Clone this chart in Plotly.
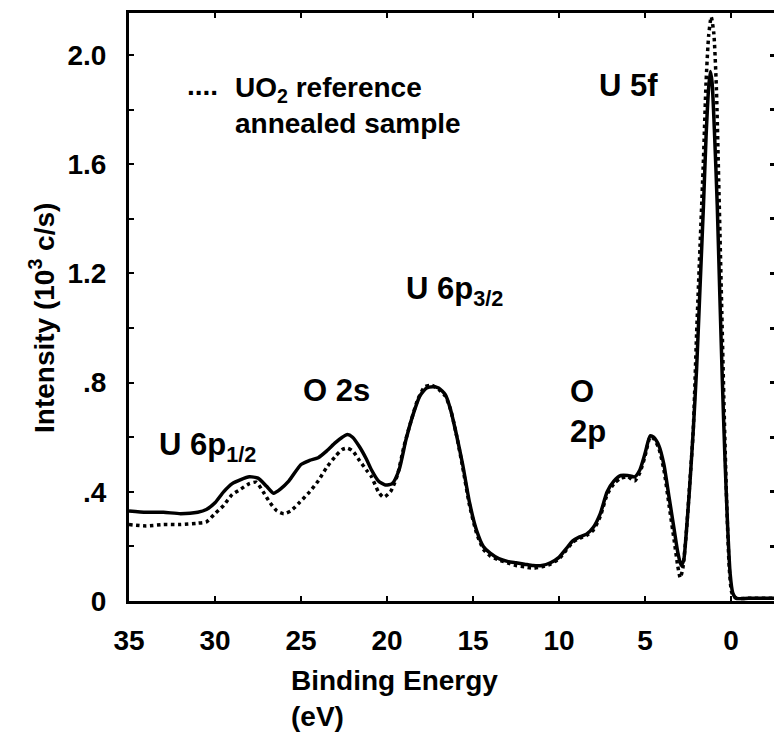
import plotly.graph_objects as go

# Binding energy (eV) and intensity (10^3 c/s)
annealed_energy = [35.0, 34.0, 33.0, 32.0, 31.0, 30.5, 30.0, 29.5, 29.0, 28.5, 28.0, 27.5, 27.0, 26.6,
                   26.2, 25.7, 25.0, 24.5, 24.0, 23.5, 23.0, 22.6, 22.3, 22.0, 21.6, 21.2, 20.9, 20.5,
                   20.1, 19.7, 19.3, 18.9, 18.5, 18.1, 17.7, 17.3, 17.0, 16.6, 16.3, 16.0, 15.6, 15.2,
                   14.8, 14.4, 14.0, 13.5, 13.0, 12.5, 12.0, 11.5, 11.0, 10.5, 10.0, 9.6, 9.2, 8.8,
                   8.4, 8.0, 7.6, 7.2, 6.8, 6.4, 6.0, 5.6, 5.3, 5.0, 4.7, 4.5, 4.2, 3.9, 3.6, 3.3,
                   3.1, 2.9, 2.75, 2.6, 2.4, 2.2, 2.0, 1.8, 1.6, 1.45, 1.3, 1.2, 1.1, 0.95, 0.8, 0.65,
                   0.5, 0.35, 0.2, 0.05, -0.1, -0.3, -1.0, -2.5]
annealed_intensity = [0.33, 0.325, 0.325, 0.32, 0.325, 0.335, 0.36, 0.40, 0.43, 0.445, 0.455, 0.45, 0.42, 0.395,
                      0.41, 0.44, 0.50, 0.515, 0.525, 0.55, 0.58, 0.60, 0.61, 0.60, 0.565, 0.52, 0.48, 0.44,
                      0.425, 0.43, 0.48, 0.59, 0.68, 0.75, 0.78, 0.785, 0.78, 0.755, 0.70, 0.62, 0.50, 0.36,
                      0.26, 0.20, 0.175, 0.155, 0.145, 0.14, 0.135, 0.13, 0.13, 0.14, 0.16, 0.19, 0.22, 0.235,
                      0.245, 0.27, 0.32, 0.40, 0.44, 0.46, 0.46, 0.455, 0.48, 0.54, 0.605, 0.60, 0.57, 0.50, 0.38, 0.26,
                      0.18, 0.13, 0.15, 0.25, 0.42, 0.62, 0.85, 1.15, 1.45, 1.70, 1.88, 1.94, 1.90, 1.70, 1.45, 1.12,
                      0.80, 0.52, 0.28, 0.10, 0.03, 0.01, 0.01, 0.01]

reference_energy = [35.0, 34.0, 33.0, 32.0, 31.0, 30.5, 30.0, 29.5, 29.0, 28.5, 28.0, 27.6, 27.2, 26.8,
                    26.4, 26.0, 25.6, 25.1, 24.5, 24.0, 23.5, 23.0, 22.6, 22.3, 22.0, 21.6, 21.2, 20.9,
                    20.5, 20.2, 19.8, 19.4, 19.0, 18.6, 18.2, 17.8, 17.4, 17.0, 16.6, 16.3, 16.0, 15.6,
                    15.2, 14.8, 14.4, 14.0, 13.5, 13.0, 12.5, 12.0, 11.5, 11.0, 10.5, 10.0, 9.6, 9.2,
                    8.8, 8.4, 8.0, 7.6, 7.2, 6.8, 6.4, 6.0, 5.6, 5.3, 5.0, 4.7, 4.5, 4.2, 3.9, 3.6,
                    3.3, 3.1, 2.95, 2.8, 2.6, 2.4, 2.2, 2.0, 1.8, 1.6, 1.45, 1.3, 1.15, 1.0, 0.85, 0.7,
                    0.55, 0.4, 0.25, 0.1, -0.05, -0.3, -1.0, -2.5]
reference_intensity = [0.28, 0.275, 0.28, 0.28, 0.285, 0.29, 0.32, 0.35, 0.39, 0.41, 0.43, 0.435, 0.40, 0.36,
                       0.33, 0.32, 0.33, 0.36, 0.40, 0.44, 0.49, 0.53, 0.555, 0.56, 0.55, 0.515, 0.48, 0.455,
                       0.40, 0.38, 0.40, 0.46, 0.57, 0.66, 0.74, 0.785, 0.79, 0.775, 0.75, 0.70, 0.62, 0.49,
                       0.35, 0.25, 0.19, 0.165, 0.15, 0.14, 0.13, 0.125, 0.12, 0.125, 0.135, 0.155, 0.185, 0.215,
                       0.23, 0.24, 0.26, 0.31, 0.39, 0.43, 0.45, 0.455, 0.44, 0.47, 0.53, 0.60, 0.595, 0.56, 0.48, 0.35,
                       0.22, 0.13, 0.085, 0.12, 0.25, 0.43, 0.62, 0.98, 1.30, 1.62, 1.90, 2.07, 2.14, 2.08, 1.88, 1.50,
                       1.10, 0.70, 0.36, 0.12, 0.03, 0.01, 0.01, 0.01]

x_ticks = [35, 30, 25, 20, 15, 10, 5, 0]
y_ticks = [0, 0.4, 0.8, 1.2, 1.6, 2.0]
y_tick_text = ["0", ".4", ".8", "1.2", "1.6", "2.0"]

FONT = "Liberation Sans"
FS = 28
FS_PEAK = 31
W, H = 774, 741
ML, MR, MT, MB = 129, 0, 13, 140
Y_RANGE = [0, 2.154]

fig = go.Figure()
fig.add_trace(go.Scatter(x=annealed_energy, y=annealed_intensity, mode="lines",
                         line=dict(color="black", width=3.5, shape="spline", smoothing=0.6),
                         name="annealed sample", showlegend=False))
fig.add_trace(go.Scatter(x=reference_energy, y=reference_intensity, mode="lines", yaxis="y2",
                         line=dict(color="black", width=3.5, dash="dot", shape="spline", smoothing=0.6),
                         name="UO2 reference", showlegend=False))

# positions given in page pixels, converted to paper coordinates of the plot area
annotations = [
    dict(x=202, y=86, text="....", xanchor="center", yanchor="middle", size=FS),
    dict(x=233, y=70, text="UO<sub>2</sub> reference<br>annealed sample", xanchor="left", yanchor="top",
         align="left", size=FS),
    dict(x=597, y=85, text="U 5f", xanchor="left", yanchor="middle", size=FS_PEAK),
    dict(x=404, y=291, text="U 6p<sub>3/2</sub>", xanchor="left", yanchor="middle", size=FS_PEAK),
    dict(x=301, y=390, text="O 2s", xanchor="left", yanchor="middle", size=FS_PEAK),
    dict(x=157, y=447, text="U 6p<sub>1/2</sub>", xanchor="left", yanchor="middle", size=FS_PEAK),
    dict(x=568, y=372, text="O<br>2p", xanchor="left", yanchor="top", align="left", size=FS_PEAK),
    dict(x=289, y=663, text="Binding Energy<br>(eV)", xanchor="left", yanchor="top", align="left", size=FS),
    dict(x=42, y=318, text="Intensity (10<sup>3</sup> c/s)", xanchor="center", yanchor="middle",
         textangle=-90, size=FS),
]
pw, ph = W - ML - MR, H - MT - MB
for a in annotations:
    size = a.pop("size")
    a["x"] = (a["x"] - ML) / pw
    a["y"] = (H - MB - a["y"]) / ph
    a.update(xref="paper", yref="paper", showarrow=False,
             font=dict(family=FONT, size=size, color="black", weight="bold"))

tick_font = dict(family=FONT, size=FS, color="black", weight="bold")
fig.update_layout(
    width=W, height=H,
    margin=dict(l=ML, r=MR, t=MT, b=MB, pad=0),
    plot_bgcolor="white", paper_bgcolor="white",
    font=dict(family=FONT, size=FS, color="black", weight="bold"),
    xaxis=dict(range=[35, -2.5], tickvals=x_ticks, ticks="inside", ticklen=5, tickwidth=2,
               tickcolor="black", showline=True, linewidth=3, linecolor="black", mirror="ticks",
               showgrid=False, zeroline=False, ticklabelstandoff=12, tickfont=tick_font),
    yaxis=dict(range=Y_RANGE, tickvals=y_ticks, ticktext=y_tick_text, ticks="inside", ticklen=5,
               tickwidth=2, tickcolor="black", showline=True, linewidth=3, linecolor="black",
               showgrid=False, zeroline=False, ticklabelstandoff=14,
               minor=dict(dtick=0.2, tick0=0, ticks="inside", ticklen=5, tickwidth=2, tickcolor="black", showgrid=False),
               tickfont=tick_font),
    yaxis2=dict(range=Y_RANGE, matches="y", overlaying="y", side="right", dtick=0.2, tick0=0, ticks="inside",
                ticklen=4, tickwidth=3, tickcolor="black", showline=False, showgrid=False,
                zeroline=False, showticklabels=False),
    annotations=annotations,
)
fig.write_html("out.html")
